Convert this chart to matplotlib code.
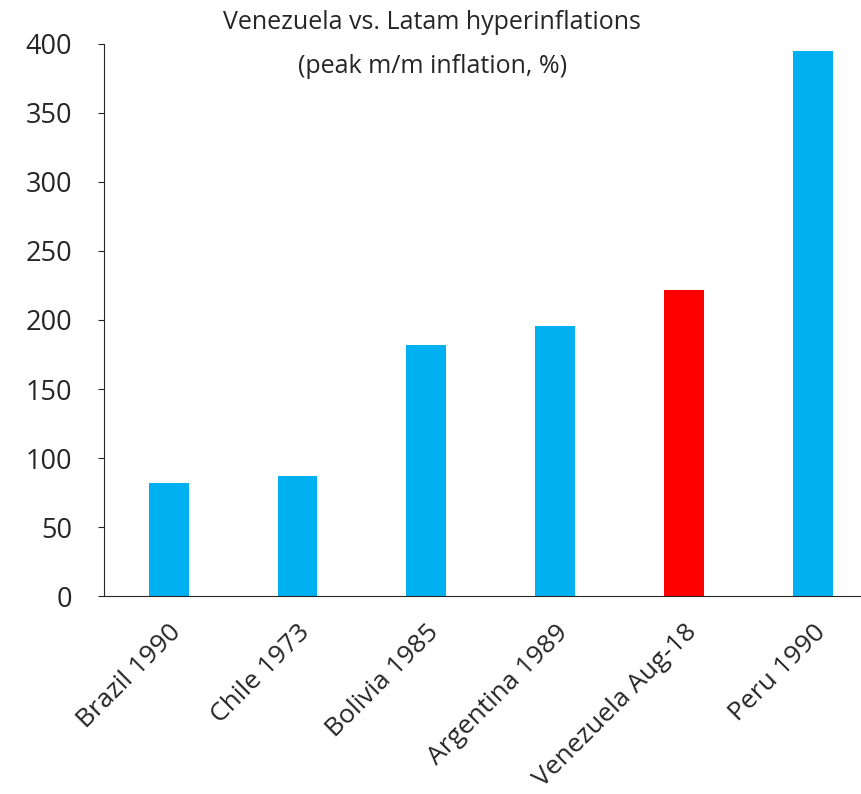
import numpy as np
import matplotlib.pyplot as plt

plt.rcParams['font.family'] = ['Open Sans', 'DejaVu Sans']

# Data
countries = ["Brazil 1990", "Chile 1973", "Bolivia 1985", "Argentina 1989",
             "Venezuela Aug-18", "Peru 1990"]
peak_inflation = [82, 87, 182, 196, 222, 395]
bar_colors = ["#00B0F0", "#00B0F0", "#00B0F0", "#00B0F0", "#FF0000", "#00B0F0"]
yticks = [0, 50, 100, 150, 200, 250, 300, 350, 400]

fig = plt.figure(figsize=(8.61, 7.94), dpi=100)
ax = fig.add_axes([0.121, 0.249, 0.898, 0.696])

x = np.arange(len(countries))
ax.bar(x, peak_inflation, width=0.31, color=bar_colors)

ax.set_xlim(-0.5, len(countries) - 0.5)
ax.set_ylim(0, 400)
ax.set_yticks(yticks)
ax.set_xticks(x)
ax.set_xticklabels(countries, rotation=45, ha='right', rotation_mode='anchor',
                   fontsize=19, color='#262626')
ax.tick_params(axis='x', length=0, pad=17)
ax.tick_params(axis='y', labelsize=19.5, colors='#262626', length=4, pad=19)

for side in ['top', 'right']:
    ax.spines[side].set_visible(False)
ax.spines['left'].set_color('#262626')
ax.spines['bottom'].set_color('#262626')

fig.text(0.502, 0.972, "Venezuela vs. Latam hyperinflations", ha='center', va='center',
         fontsize=18, color='#262626')
fig.text(0.502, 0.916, "(peak m/m inflation, %)", ha='center', va='center',
         fontsize=18, color='#262626')

fig.savefig("out.png", dpi=100)
